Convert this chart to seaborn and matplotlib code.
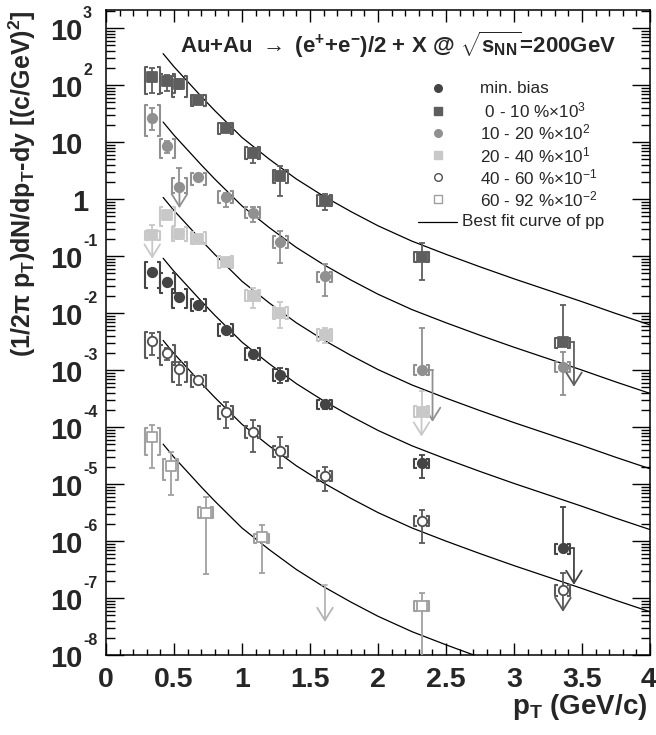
import numpy as np
import pandas as pd
import matplotlib
matplotlib.use("Agg")
import matplotlib.pyplot as plt
import matplotlib.transforms as mtransforms
from matplotlib.collections import LineCollection
from matplotlib.ticker import MultipleLocator, LogLocator, NullFormatter, FuncFormatter
import seaborn as sns

# ---------------- data ----------------
# best-fit pp curve shape (drawn as the 0-10% x10^3 curve) and scale factors of the six curves
pp_pt = [0.42, 0.50, 0.60, 0.70, 0.80, 1.00, 1.20, 1.40, 1.60, 1.80, 2.00, 2.25, 2.50, 2.75,
         3.00, 3.25, 3.50, 3.75, 4.00]
pp_fit = [355, 209, 115, 63.1, 35.5, 12.0, 5.01, 2.24, 1.12, 0.603, 0.339, 0.182, 0.107, 0.0646,
          0.0398, 0.0251, 0.0158, 0.00977, 0.00617]
curve_scale = [1.0, 6.3e-2, 3.0e-3, 2.57e-4, 9.3e-6, 1.41e-7]

# min. bias
mb_pt = [0.34, 0.45, 0.54, 0.68, 0.88, 1.08, 1.28, 1.61, 2.32, 3.36]
mb_y = [5.3e-2, 3.5e-2, 1.93e-2, 1.38e-2, 5.0e-3, 1.9e-3, 8.1e-4, 2.5e-4, 2.3e-5, 7.4e-7]
mb_stat_hi = [6.0e-2, 4.0e-2, 2.2e-2, 1.55e-2, 5.6e-3, 2.2e-3, 1.1e-3, 2.9e-4, 3.2e-5, 4.0e-6]
mb_stat_lo = [4.6e-2, 3.0e-2, 1.7e-2, 1.22e-2, 4.4e-3, 1.6e-3, 5.8e-4, 2.1e-4, 1.27e-5, 7.4e-7]
mb_sys_hi = [7.9e-2, 5.0e-2, 2.63e-2, 1.76e-2, 6.4e-3, 2.4e-3, 1.04e-3, 3.0e-4, 2.8e-5, 9.0e-7]
mb_sys_lo = [2.7e-2, 2.2e-2, 1.22e-2, 1.08e-2, 3.9e-3, 1.5e-3, 6.3e-4, 2.05e-4, 1.9e-5, 6.0e-7]
mb_ul_idx = [9]
mb_ul_tip = [1.7e-7]
mb_ul_side = [True]

# 0 - 10 % x 10^3
c0_pt = [0.34, 0.45, 0.54, 0.68, 0.88, 1.08, 1.28, 1.61, 2.32, 3.36]
c0_y = [140, 119, 104, 55, 17.8, 6.5, 2.5, 0.93, 0.098, 3.1e-3]
c0_stat_hi = [200, 151, 128, 62, 20, 7.8, 3.8, 1.2, 0.166, 1.38e-2]
c0_stat_lo = [72, 78, 84, 49, 15.8, 4.3, 1.13, 0.65, 0.038, 3.1e-3]
c0_sys_hi = [205, 155, 144, 67, 21.5, 8.1, 3.2, 1.17, 0.117, 3.6e-3]
c0_sys_lo = [70, 71, 62, 42, 13.8, 5.0, 1.9, 0.75, 0.079, 2.4e-3]
c0_ul_idx = [9]
c0_ul_tip = [5.1e-4]
c0_ul_side = [True]

# 10 - 20 % x 10^2
c1_pt = [0.34, 0.45, 0.54, 0.68, 0.88, 1.08, 1.28, 1.61, 2.32, 3.36]
c1_y = [26, 8.5, 1.64, 2.4, 1.1, 0.575, 0.178, 0.044, 1.0e-3, 1.14e-3]
c1_stat_hi = [40, 10.5, 3.5, 2.7, 1.3, 0.72, 0.28, 0.071, 5.4e-3, 2.1e-3]
c1_stat_lo = [16, 6.5, 1.64, 2.1, 0.72, 0.39, 0.074, 0.0195, 1.0e-3, 3.6e-4]
c1_sys_hi = [45, 11.5, 2.33, 2.9, 1.36, 0.72, 0.22, 0.053, 1.2e-3, 1.38e-3]
c1_sys_lo = [13, 5.2, 1.27, 1.75, 0.85, 0.47, 0.14, 0.035, 8.2e-4, 9.4e-4]
c1_ul_idx = [2, 8]
c1_ul_tip = [0.69, 1.23e-4]
c1_ul_side = [False, True]

# 20 - 40 % x 10^1
c2_pt = [0.34, 0.45, 0.54, 0.68, 0.88, 1.08, 1.28, 1.61, 2.32]
c2_y = [0.23, 0.52, 0.24, 0.20, 0.078, 0.020, 0.0101, 0.0041, 1.86e-4]
c2_stat_hi = [0.35, 0.60, 0.28, 0.23, 0.090, 0.028, 0.0155, 0.0054, 4.2e-4]
c2_stat_lo = [0.23, 0.44, 0.20, 0.175, 0.068, 0.012, 0.0054, 0.0030, 1.86e-4]
c2_sys_hi = [0.27, 0.72, 0.32, 0.26, 0.10, 0.025, 0.0129, 0.0052, 2.3e-4]
c2_sys_lo = [0.19, 0.34, 0.18, 0.165, 0.062, 0.016, 0.0079, 0.0032, 1.5e-4]
c2_ul_idx = [0, 8]
c2_ul_tip = [0.09, 6.8e-5]
c2_ul_side = [False, False]

# 40 - 60 % x 10^-1
c3_pt = [0.34, 0.45, 0.54, 0.68, 0.88, 1.08, 1.28, 1.61, 2.32, 3.36]
c3_y = [3.2e-3, 1.95e-3, 1.03e-3, 6.6e-4, 1.86e-4, 8.3e-5, 3.8e-5, 1.38e-5, 2.2e-6, 1.38e-7]
c3_stat_hi = [4.5e-3, 2.4e-3, 1.37e-3, 7.5e-4, 2.8e-4, 1.35e-4, 6.7e-5, 1.95e-5, 3.5e-6, 2.7e-7]
c3_stat_lo = [1.8e-3, 1.5e-3, 5.5e-4, 5.8e-4, 9.7e-5, 3.6e-5, 1.9e-5, 7.6e-6, 9.2e-7, 1.38e-7]
c3_sys_hi = [4.7e-3, 2.7e-3, 1.37e-3, 8.1e-4, 2.3e-4, 1.03e-4, 4.7e-5, 1.68e-5, 2.7e-6, 1.7e-7]
c3_sys_lo = [1.65e-3, 1.23e-3, 6.2e-4, 5.1e-4, 1.4e-4, 6.5e-5, 3.0e-5, 1.13e-5, 1.8e-6, 1.1e-7]
c3_ul_idx = [9]
c3_ul_tip = [5.7e-8]
c3_ul_side = [False]

# 60 - 92 % x 10^-2
c4_pt = [0.34, 0.475, 0.735, 1.145, 2.32]
c4_y = [6.8e-5, 2.1e-5, 3.1e-6, 1.16e-6, 7.1e-8]
c4_stat_hi = [1.1e-4, 3.7e-5, 6.0e-6, 1.9e-6, 1.2e-7]
c4_stat_lo = [1.9e-5, 6.4e-6, 2.6e-7, 2.8e-7, 5.0e-9]
c4_sys_hi = [9.5e-5, 2.8e-5, 3.9e-6, 1.35e-6, 8.7e-8]
c4_sys_lo = [3.2e-5, 1.17e-5, 2.5e-6, 9.1e-7, 5.8e-8]
c4_ul_idx = []
c4_ul_tip = []
c4_ul_side = []
c4_limit_pt = [1.61]          # upper limit only (no point)
c4_limit_from = [1.7e-7]
c4_limit_to = [3.8e-8]

legend_labels = ["min. bias",
                 " 0 - 10 %$\\times$10$^{3}$",
                 "10 - 20 %$\\times$10$^{2}$",
                 "20 - 40 %$\\times$10$^{1}$",
                 "40 - 60 %$\\times$10$^{-1}$",
                 "60 - 92 %$\\times$10$^{-2}$",
                 "Best fit curve of pp"]
title_text = ("Au+Au $\\rightarrow$ (e$^{+}$+e$^{-}$)/2 + X @ "
              "$\\sqrt{s_{NN}}$=200GeV")
ylabel_text = "(1/2$\\pi$ p$_{T}$)dN/dp$_{T}$-dy [(c/GeV)$^{2}$]"
xlabel_text = "p$_{T}$ (GeV/c)"
x_ticks = [0, 0.5, 1, 1.5, 2, 2.5, 3, 3.5, 4]
x_tick_labels = ["0", "0.5", "1", "1.5", "2", "2.5", "3", "3.5", "4"]

# ---------------- style ----------------
sns.set_theme(style="ticks")
plt.rcParams['font.family'] = ['Liberation Sans', 'DejaVu Sans']
plt.rcParams['font.weight'] = 'bold'
plt.rcParams['mathtext.fontset'] = 'custom'
plt.rcParams['mathtext.rm'] = 'Liberation Sans'
plt.rcParams['mathtext.it'] = 'Liberation Sans:italic'
plt.rcParams['mathtext.bf'] = 'Liberation Sans:bold'
plt.rcParams['mathtext.default'] = 'regular'
plt.rcParams['axes.edgecolor'] = 'black'
plt.rcParams['axes.linewidth'] = 1.1
plt.rcParams['xtick.color'] = 'black'
plt.rcParams['ytick.color'] = 'black'

W, H = 656, 735
fig = plt.figure(figsize=(W / 100, H / 100), dpi=100)
fig.patch.set_facecolor('white')
AX_L, AX_R, AX_T, AX_B = 106, 650, 10, 655
ax = fig.add_axes([AX_L / W, 1 - AX_B / H, (AX_R - AX_L) / W, (AX_B - AX_T) / H])
ax.set_facecolor('white')
ax.set_yscale('log')
ax.set_xlim(0, 4)
ax.set_ylim(1e-8, 10 ** (-8 + (AX_B - AX_T) / 57.0))

# ---------------- curves ----------------
rows = []
for k, sc in enumerate(curve_scale):
    for p, v in zip(pp_pt, pp_fit):
        rows.append({'pt': p, 'val': v * sc, 'curve': k})
cdf = pd.DataFrame(rows)
sns.lineplot(data=cdf, x='pt', y='val', units='curve', estimator=None, color='black',
             lw=0.9, ax=ax, legend=False, zorder=2)

# ---------------- points ----------------
PX = 4.0 / (AX_R - AX_L)   # data units per pixel in x
BW = 7.5 * PX
BT = 3.0 * PX
SIDE = 11 * PX

series = [
    (mb_pt, mb_y, mb_stat_lo, mb_stat_hi, mb_sys_lo, mb_sys_hi, mb_ul_idx, mb_ul_tip, mb_ul_side,
     'o', 46, '#444444', '#444444', '#444444'),
    (c0_pt, c0_y, c0_stat_lo, c0_stat_hi, c0_sys_lo, c0_sys_hi, c0_ul_idx, c0_ul_tip, c0_ul_side,
     's', 58, '#5e5e5e', '#5e5e5e', '#5e5e5e'),
    (c1_pt, c1_y, c1_stat_lo, c1_stat_hi, c1_sys_lo, c1_sys_hi, c1_ul_idx, c1_ul_tip, c1_ul_side,
     'o', 46, '#909090', '#909090', '#909090'),
    (c2_pt, c2_y, c2_stat_lo, c2_stat_hi, c2_sys_lo, c2_sys_hi, c2_ul_idx, c2_ul_tip, c2_ul_side,
     's', 58, '#c8c8c8', '#c8c8c8', '#c8c8c8'),
    (c3_pt, c3_y, c3_stat_lo, c3_stat_hi, c3_sys_lo, c3_sys_hi, c3_ul_idx, c3_ul_tip, c3_ul_side,
     'o', 46, 'white', '#505050', '#5a5a5a'),
    (c4_pt, c4_y, c4_stat_lo, c4_stat_hi, c4_sys_lo, c4_sys_hi, c4_ul_idx, c4_ul_tip, c4_ul_side,
     's', 58, 'white', '#a0a0a0', '#a0a0a0'),
]


def down_arrow(x, y0, y1, col):
    ax.annotate('', xy=(x, y1), xytext=(x, y0),
                arrowprops=dict(arrowstyle='->,head_length=0.45,head_width=0.28', color=col,
                                lw=1.3, shrinkA=0, shrinkB=0, mutation_scale=20), zorder=3)


for (pt, y, slo, shi, ylo, yhi, ul_idx, ul_tip, ul_side, mk, ms, fc, ec, lc) in series:
    pt = np.asarray(pt, float)
    y = np.asarray(y, float)
    slo = np.asarray(slo, float)
    shi = np.asarray(shi, float)
    ax.errorbar(pt, y, yerr=[y - slo, shi - y], fmt='none', ecolor=lc, elinewidth=1.3,
                capsize=2.5, capthick=1.3, zorder=3)
    segs = []
    for p, lo, hi in zip(pt, ylo, yhi):
        xl, xr = p - BW, p + BW
        segs.append([(xl + BT, hi), (xl, hi), (xl, lo), (xl + BT, lo)])
        segs.append([(xr - BT, hi), (xr, hi), (xr, lo), (xr - BT, lo)])
    ax.add_collection(LineCollection(segs, colors=lc, linewidths=1.5, zorder=3))
    for i, tip, side in zip(ul_idx, ul_tip, ul_side):
        if side:
            xa = pt[i] + SIDE
            ax.plot([pt[i], xa], [y[i], y[i]], color=lc, lw=1.3, zorder=3)
            down_arrow(xa, y[i], tip, lc)
        else:
            down_arrow(pt[i], y[i], tip, lc)
    sdf = pd.DataFrame({'pt': pt, 'y': y})
    sns.scatterplot(data=sdf, x='pt', y='y', marker=mk, s=ms, facecolor=fc, edgecolor=ec,
                    linewidth=1.3, ax=ax, zorder=4, legend=False)

for p, a, b in zip(c4_limit_pt, c4_limit_from, c4_limit_to):
    ax.plot([p - 2.5 * PX, p + 2.5 * PX], [a, a], color='#b4b4b4', lw=1.3, zorder=3)
    down_arrow(p, a, b, '#b4b4b4')

# ---------------- axes / ticks ----------------
ax.set_xlabel('')
ax.set_ylabel('')
ax.set_xticks(x_ticks)
ax.xaxis.set_minor_locator(MultipleLocator(0.1))
ax.yaxis.set_major_locator(LogLocator(base=10, numticks=30))
ax.yaxis.set_minor_locator(LogLocator(base=10, subs=np.arange(2, 10), numticks=30))
ax.yaxis.set_minor_formatter(NullFormatter())
ax.tick_params(axis='x', which='major', direction='in', length=8.6, width=1.0,
               top=True, bottom=True, labelbottom=False)
ax.tick_params(axis='x', which='minor', direction='in', length=4.6, width=1.0,
               top=True, bottom=True)
ax.tick_params(axis='y', which='major', direction='in', length=13, width=1.0,
               left=True, right=True, labelleft=False)
ax.tick_params(axis='y', which='minor', direction='in', length=6.5, width=1.0,
               left=True, right=True)
for s in ax.spines.values():
    s.set_visible(True)
    s.set_linewidth(1.1)
    s.set_color('black')

# x tick labels (last one kept inside the canvas)
xtr = ax.get_xaxis_transform()
off_x = mtransforms.ScaledTranslation(0, -12 / 100, fig.dpi_scale_trans)
for v, lab in zip(x_ticks, x_tick_labels):
    ha = 'right' if v == x_ticks[-1] else 'center'
    dx = 6 / 100 if v == x_ticks[-1] else 0
    tr = xtr + off_x + mtransforms.ScaledTranslation(dx, 0, fig.dpi_scale_trans)
    ax.text(v, 0, lab, transform=tr, ha=ha, va='top', fontsize=20.5, fontweight='bold',
            clip_on=False)

# y tick labels in ROOT style (base and exponent)
ytr = ax.get_yaxis_transform()
for e in range(-8, 4):
    base = '1' if e == 0 else '10'
    off_b = mtransforms.ScaledTranslation(-(24 if e != 0 else 18) / 100, -12 / 100,
                                          fig.dpi_scale_trans)
    ax.text(0, 10.0 ** e, base, transform=ytr + off_b, ha='right', va='baseline',
            fontsize=21, fontweight='bold', clip_on=False)
    if e not in (0, 1):
        off_s = mtransforms.ScaledTranslation(-23 / 100, 10 / 100, fig.dpi_scale_trans)
        ax.text(0, 10.0 ** e, str(e), transform=ytr + off_s, ha='left', va='baseline',
                fontsize=11.5, fontweight='bold', clip_on=False)

# ---------------- labels ----------------
fig.text(180 / W, 1 - 45 / H, title_text, ha='left', va='center', fontsize=16,
         fontweight='bold')
fig.text(22 / W, 1 - 10 / H, ylabel_text, rotation=90, ha='center', va='top',
         fontsize=18, fontweight='bold')
fig.text(647 / W, 1 - 707 / H, xlabel_text, ha='right', va='center', fontsize=20,
         fontweight='bold')

# ---------------- legend ----------------
def axf(px, py):
    return ((px - AX_L) / (AX_R - AX_L), (AX_B - py) / (AX_B - AX_T))


leg_style = [('o', '#444444', '#444444'), ('s', '#5e5e5e', '#5e5e5e'),
             ('o', '#909090', '#909090'), ('s', '#c8c8c8', '#c8c8c8'),
             ('o', 'white', '#505050'), ('s', 'white', '#a0a0a0')]
for i, lab in enumerate(legend_labels):
    py = 88.4 + 22.2 * i
    tx, ty = axf(480, py)
    if i < 6:
        mk, fc, ec = leg_style[i]
        mx, my = axf(438, py)
        ax.scatter([mx], [my], marker=mk, s=30, facecolor=fc, edgecolor=ec, linewidth=1.0,
                   transform=ax.transAxes, clip_on=False, zorder=5)
    else:
        x0, yy = axf(418, py)
        x1, _ = axf(457, py)
        ax.plot([x0, x1], [yy, yy], color='black', lw=0.9, transform=ax.transAxes)
        tx, ty = axf(462, py)
    ax.text(tx, ty, lab, transform=ax.transAxes, ha='left', va='center', fontsize=12.3,
            fontweight='normal')

fig.savefig('out.png', dpi=100, facecolor='white')
